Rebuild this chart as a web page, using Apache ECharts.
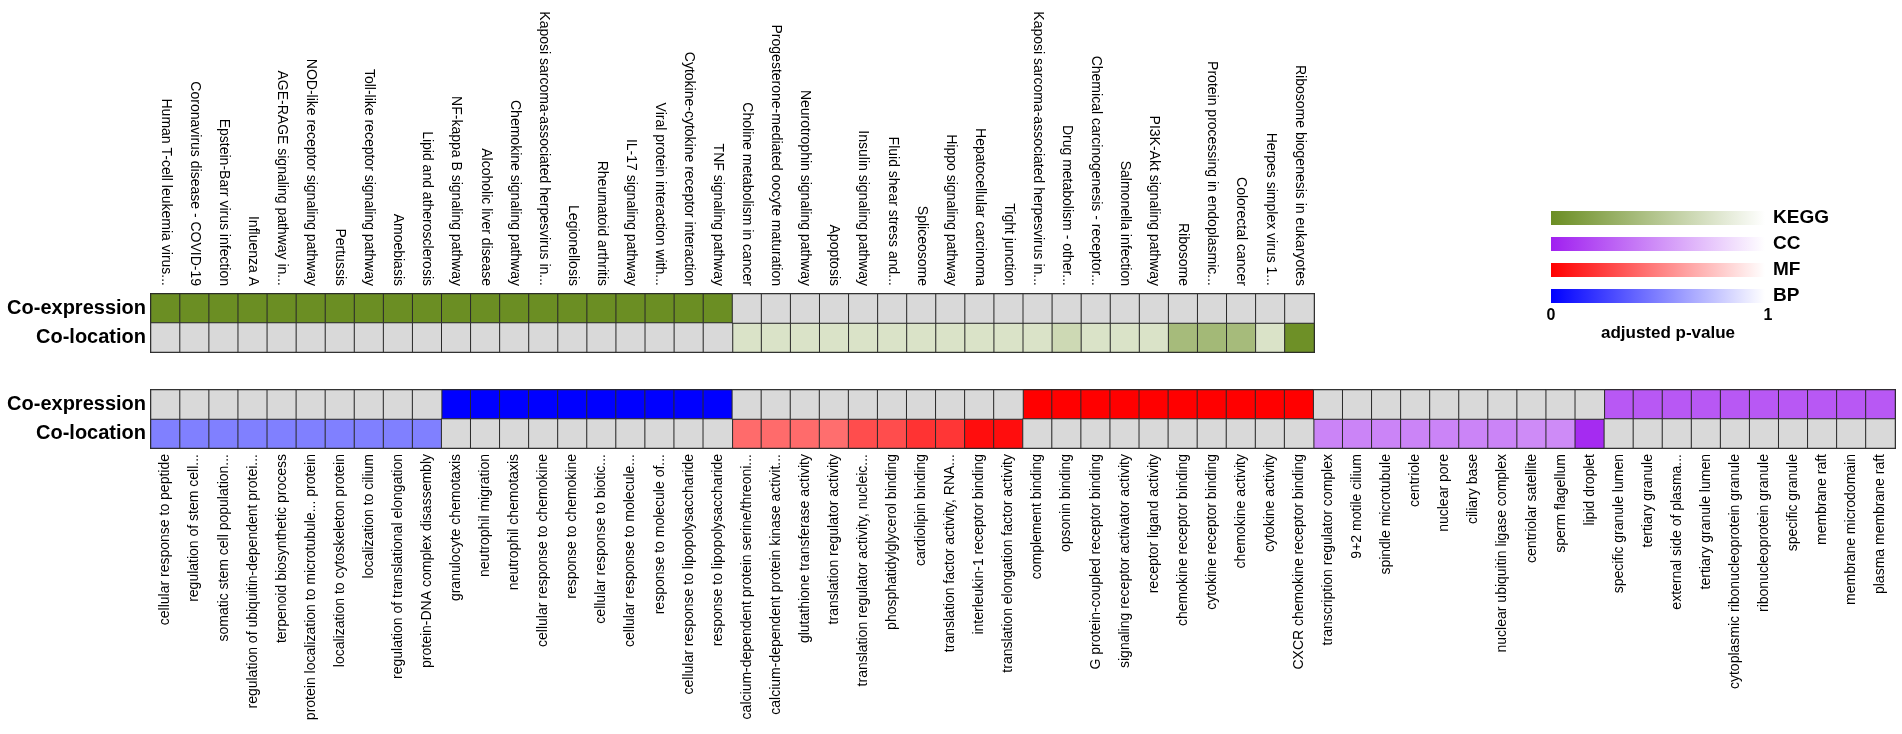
<!DOCTYPE html>
<html>
<head>
<meta charset="utf-8">
<title>Co-expression / Co-location enrichment</title>
<script src="https://cdn.jsdelivr.net/npm/echarts@6/dist/echarts.min.js"></script>
<style>
  html, body { margin: 0; padding: 0; background: #fff; }
  #chart { width: 1902px; height: 734px; }
</style>
</head>
<body>
<div id="chart"></div>
<script>
// rows (bottom -> top)
var rows = ['Co-location', 'Co-expression'];

// KEGG pathways (top block)
var keggTerms = [
  'Human T-cell leukemia virus...', 'Coronavirus disease - COVID-19', 'Epstein-Barr virus infection',
  'Influenza A', 'AGE-RAGE signaling pathway in...', 'NOD-like receptor signaling pathway', 'Pertussis',
  'Toll-like receptor signaling pathway', 'Amoebiasis', 'Lipid and atherosclerosis',
  'NF-kappa B signaling pathway', 'Alcoholic liver disease', 'Chemokine signaling pathway',
  'Kaposi sarcoma-associated herpesvirus in...', 'Legionellosis', 'Rheumatoid arthritis',
  'IL-17 signaling pathway', 'Viral protein interaction with...', 'Cytokine-cytokine receptor interaction',
  'TNF signaling pathway', 'Choline metabolism in cancer', 'Progesterone-mediated oocyte maturation',
  'Neurotrophin signaling pathway', 'Apoptosis', 'Insulin signaling pathway', 'Fluid shear stress and...',
  'Spliceosome', 'Hippo signaling pathway', 'Hepatocellular carcinoma', 'Tight junction',
  'Kaposi sarcoma-associated herpesvirus in...', 'Drug metabolism - other...',
  'Chemical carcinogenesis - receptor...', 'Salmonella infection', 'PI3K-Akt signaling pathway',
  'Ribosome', 'Protein processing in endoplasmic...', 'Colorectal cancer', 'Herpes simplex virus 1...',
  'Ribosome biogenesis in eukaryotes'
];
// adjusted p-values, null = not present (grey)
var keggCoexpr = [0, 0, 0, 0, 0, 0, 0, 0, 0, 0, 0, 0, 0, 0, 0, 0, 0, 0, 0, 0,
  null, null, null, null, null, null, null, null, null, null, null, null, null, null, null, null, null, null, null, null];
var keggColoc = [null, null, null, null, null, null, null, null, null, null, null, null, null, null, null, null, null, null, null, null,
  0.75, 0.75, 0.75, 0.75, 0.75, 0.75, 0.75, 0.75, 0.75, 0.75, 0.75, 0.66, 0.75, 0.75, 0.75, 0.4, 0.38, 0.4, 0.75, 0.02];

// GO biological process
var bpTerms = [
  'cellular response to peptide', 'regulation of stem cell...', 'somatic stem cell population...',
  'regulation of ubiquitin-dependent protei...', 'terpenoid biosynthetic process',
  'protein localization to microtubule... protein', 'localization to cytoskeleton protein',
  'localization to cilium', 'regulation of translational elongation', 'protein-DNA complex disassembly',
  'granulocyte chemotaxis', 'neutrophil migration', 'neutrophil chemotaxis', 'cellular response to chemokine',
  'response to chemokine', 'cellular response to biotic...', 'cellular response to molecule...',
  'response to molecule of...', 'cellular response to lipopolysaccharide', 'response to lipopolysaccharide'
];
var bpCoexpr = [null, null, null, null, null, null, null, null, null, null, 0, 0, 0, 0, 0, 0, 0, 0, 0, 0];
var bpColoc = [0.5, 0.5, 0.5, 0.5, 0.5, 0.5, 0.5, 0.5, 0.5, 0.5, null, null, null, null, null, null, null, null, null, null];

// GO molecular function
var mfTerms = [
  'calcium-dependent protein serine/threoni...', 'calcium-dependent protein kinase activit...',
  'glutathione transferase activity', 'translation regulator activity',
  'translation regulator activity, nucleic...', 'phosphatidylglycerol binding', 'cardiolipin binding',
  'translation factor activity, RNA...', 'interleukin-1 receptor binding', 'translation elongation factor activity',
  'complement binding', 'opsonin binding', 'G protein-coupled receptor binding',
  'signaling receptor activator activity', 'receptor ligand activity', 'chemokine receptor binding',
  'cytokine receptor binding', 'chemokine activity', 'cytokine activity', 'CXCR chemokine receptor binding'
];
var mfCoexpr = [null, null, null, null, null, null, null, null, null, null, 0, 0, 0, 0, 0, 0, 0, 0, 0, 0];
var mfColoc = [0.42, 0.42, 0.42, 0.43, 0.3, 0.3, 0.2, 0.21, 0.05, 0.05, null, null, null, null, null, null, null, null, null, null];

// GO cellular component
var ccTerms = [
  'transcription regulator complex', '9+2 motile cilium', 'spindle microtubule', 'centriole', 'nuclear pore',
  'ciliary base', 'nuclear ubiquitin ligase complex', 'centriolar satellite', 'sperm flagellum', 'lipid droplet',
  'specific granule lumen', 'tertiary granule', 'external side of plasma...', 'tertiary granule lumen',
  'cytoplasmic ribonucleoprotein granule', 'ribonucleoprotein granule', 'specific granule', 'membrane raft',
  'membrane microdomain', 'plasma membrane raft'
];
var ccCoexpr = [null, null, null, null, null, null, null, null, null, null, 0.25, 0.25, 0.25, 0.25, 0.25, 0.25, 0.25, 0.25, 0.25, 0.25];
var ccColoc = [0.45, 0.45, 0.45, 0.45, 0.45, 0.45, 0.45, 0.48, 0.48, 0.05, null, null, null, null, null, null, null, null, null, null];

// colour scale ends (p = 0)
var scaleNames = ['KEGG', 'CC', 'MF', 'BP'];
var scaleColors = ['#6b8e23', '#a020f0', '#ff0000', '#0000ff'];

var FONT = 'Liberation Sans, Arial, sans-serif';
var NA_COLOR = '#d9d9d9';
var naCells = [[], []]; // per grid

function cells (gridIdx, coexpr, coloc, offset) {
  var out = [];
  for (var i = 0; i < coexpr.length; i++) {
    if (coexpr[i] == null) naCells[gridIdx].push([offset + i, 1, 1]);
    else out.push([offset + i, 1, coexpr[i]]);
    if (coloc[i] == null) naCells[gridIdx].push([offset + i, 0, 1]);
    else out.push([offset + i, 0, coloc[i]]);
  }
  return out;
}

function heat (name, gridIdx, data, color) {
  var s = {
    name: name,
    type: 'heatmap',
    xAxisIndex: gridIdx,
    yAxisIndex: gridIdx,
    data: data,
    itemStyle: { borderColor: '#2a2a2a', borderWidth: 1 },
    emphasis: { disabled: true },
    progressive: 0
  };
  if (color) s.itemStyle.color = color;
  return s;
}

function scaleMap (seriesIdx, color) {
  return {
    type: 'continuous', show: false, seriesIndex: seriesIdx,
    min: 0, max: 1,
    inRange: { color: [color, '#ffffff'] }
  };
}

var goTerms = bpTerms.concat(mfTerms, ccTerms);

var seriesList = [
  heat('KEGG', 0, cells(0, keggCoexpr, keggColoc, 0)),
  heat('BP', 1, cells(1, bpCoexpr, bpColoc, 0)),
  heat('MF', 1, cells(1, mfCoexpr, mfColoc, bpTerms.length)),
  heat('CC', 1, cells(1, ccCoexpr, ccColoc, bpTerms.length + mfTerms.length))
];
seriesList.push(heat('NA', 0, naCells[0], NA_COLOR));
seriesList.push(heat('NA', 1, naCells[1], NA_COLOR));

// legend: gradient bars
var legendX = 1551, legendW = 214, legendTop = 211, legendStep = 26, barH = 14;
var legendGraphics = [];
scaleNames.forEach(function (name, i) {
  var y = legendTop + i * legendStep;
  legendGraphics.push({
    type: 'rect',
    shape: { x: legendX, y: y, width: legendW, height: barH },
    style: { fill: new echarts.graphic.LinearGradient(0, 0, 1, 0, [
      { offset: 0, color: scaleColors[i] }, { offset: 1, color: '#ffffff' }
    ]) },
    silent: true
  });
  legendGraphics.push({
    type: 'text',
    x: legendX + legendW + 8, y: y + barH / 2,
    style: { text: name, font: 'bold 19px ' + FONT, fill: '#000', textVerticalAlign: 'middle' },
    silent: true
  });
});
legendGraphics.push(
  { type: 'text', x: legendX, y: 316, style: { text: '0', font: 'bold 16px ' + FONT, fill: '#000', textAlign: 'center', textVerticalAlign: 'middle' } },
  { type: 'text', x: legendX + legendW + 3, y: 316, style: { text: '1', font: 'bold 16px ' + FONT, fill: '#000', textAlign: 'center', textVerticalAlign: 'middle' } },
  { type: 'text', x: legendX + legendW / 2 + 10, y: 333, style: { text: 'adjusted p-value', font: 'bold 17px ' + FONT, fill: '#000', textAlign: 'center', textVerticalAlign: 'middle' } }
);

var chart = echarts.init(document.getElementById('chart'));
chart.setOption({
  backgroundColor: '#fff',
  animation: false,
  grid: [
    { left: 151, top: 294, width: 1163, height: 58, show: true, borderColor: '#222', borderWidth: 2, backgroundColor: 'transparent' },
    { left: 151, top: 390, width: 1744, height: 58, show: true, borderColor: '#222', borderWidth: 2, backgroundColor: 'transparent' }
  ],
  xAxis: [
    {
      type: 'category', gridIndex: 0, position: 'top', data: keggTerms,
      axisLine: { show: false }, axisTick: { show: false }, splitLine: { show: false },
      axisLabel: { interval: 0, rotate: 90, margin: 8, fontSize: 14, color: '#000', fontFamily: FONT }
    },
    {
      type: 'category', gridIndex: 1, position: 'bottom', data: goTerms,
      axisLine: { show: false }, axisTick: { show: false }, splitLine: { show: false },
      axisLabel: { interval: 0, rotate: 90, margin: 6, fontSize: 14, color: '#000', fontFamily: FONT }
    }
  ],
  yAxis: [0, 1].map(function (g) {
    return {
      type: 'category', gridIndex: g, data: rows,
      axisLine: { show: false }, axisTick: { show: false }, splitLine: { show: false },
      axisLabel: { margin: 5, fontSize: 20, fontWeight: 'bold', color: '#000', fontFamily: FONT }
    };
  }),
  visualMap: [
    scaleMap(0, scaleColors[0]),
    scaleMap(3, scaleColors[1]),
    scaleMap(2, scaleColors[2]),
    scaleMap(1, scaleColors[3])
  ],
  series: seriesList,
  graphic: legendGraphics
});
</script>
</body>
</html>
